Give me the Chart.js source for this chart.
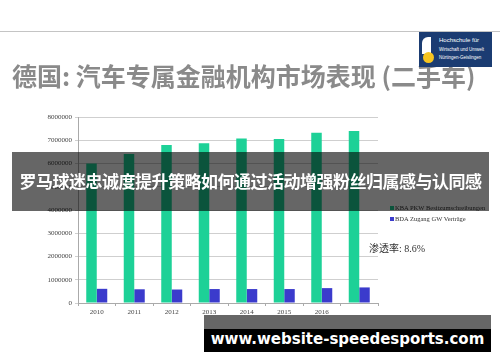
<!DOCTYPE html>
<html>
<head>
<meta charset="utf-8">
<script src="https://cdn.jsdelivr.net/npm/chart.js@4/dist/chart.umd.min.js"></script>
<style>
  html, body { margin: 0; padding: 0; background: #fff; }
  #wrap { position: relative; width: 500px; height: 362px; overflow: hidden; background: #fff; }
  #mychart { position: absolute; left: 0; top: 0; }
  .topline { position: absolute; left: 0; top: 31px; width: 500px; height: 1px; background: #c4c4c4; }
  .title { position: absolute; left: 12px; top: 57px; font: bold 25px "Noto Sans CJK SC", sans-serif; color: #8a8a8a; white-space: nowrap; }
  .logo { position: absolute; left: 419px; top: 32px; width: 73px; height: 35px; background: #1b3c72; overflow: hidden; }
  .logo .w { position: absolute; left: 3px; top: 5px; width: 9px; height: 17px; background: #fff; border-radius: 6px 0 0 0; }
  .logo .sun { position: absolute; left: 4px; top: 20px; width: 11px; height: 11px; background: #f7c520; border-radius: 50%; }
  .logo .t { position: absolute; left: 20px; color: #fff; font: 4.5px "Liberation Sans Narrow", "Liberation Sans", sans-serif; white-space: nowrap; }
  .banner { position: absolute; left: 12px; top: 152px; width: 477px; height: 59px; background: rgba(0,0,0,0.6); }
  .banner span { position: absolute; left: 0; width: 477px; top: 20px; text-align: center; color: #fff; font: bold 17px "Noto Sans CJK SC", sans-serif; white-space: nowrap; line-height: 18px; letter-spacing: -0.5px; }
  .legend { position: absolute; left: 390px; top: 204px; font: 6.5px "Liberation Serif", serif; color: #333; }
  .legend div { height: 11px; white-space: nowrap; }
  .legend i { display: inline-block; width: 4px; height: 4px; margin-right: 1px; vertical-align: 0; }
  .note { position: absolute; left: 369px; top: 240px; font: 10px "Liberation Serif", "Noto Sans CJK SC", serif; color: #333; white-space: nowrap; }
  .wm1 { position: absolute; left: 204px; top: 315px; width: 287px; height: 14px; background: #666; }
  .wm2 { position: absolute; left: 204px; top: 329px; width: 287px; height: 23px; background: #000; color: #fff; font: bold 15px "DejaVu Sans", sans-serif; text-align: center; line-height: 21px; white-space: nowrap; }
</style>
</head>
<body>
<div id="wrap">
  <canvas id="mychart" width="500" height="362"></canvas>
  <div class="topline"></div>
  <div class="title">德国: 汽车专属金融机构市场表现 (二手车)</div>
  <div class="logo">
    <div class="w"></div><div class="sun"></div>
    <div class="t" style="top:5px;font-size:6px">Hochschule für</div>
    <div class="t" style="top:15px">Wirtschaft und Umwelt</div>
    <div class="t" style="top:23px">Nürtingen-Geislingen</div>
  </div>
  <div class="legend" id="legend"></div>
  <div class="note">渗透率: 8.6%</div>
  <div class="banner"><span>罗马球迷忠诚度提升策略如何通过活动增强粉丝归属感与认同感</span></div>
  <div class="wm1"></div>
  <div class="wm2">www.website-speedesports.com</div>
</div>
<script>
const years = ['2010', '2011', '2012', '2013', '2014', '2015', '2016', ''];
const kbaValues = [6000000, 6410000, 6800000, 6870000, 7080000, 7050000, 7320000, 7400000];
const bdaValues = [610000, 590000, 580000, 600000, 600000, 600000, 640000, 670000];
const seriesNames = ['KBA PKW Besitzumschreibungen', 'BDA Zugang GW Verträge'];
const seriesColors = ['#1dd197', '#3b3bcc'];

const tickFont = { family: 'Liberation Serif', size: 7 };

let massChart = new Chart(document.getElementById('mychart'), {
    type: 'bar',
    data: {
        labels: years,
        datasets: [
            { label: seriesNames[0], data: kbaValues, backgroundColor: seriesColors[0] },
            { label: seriesNames[1], data: bdaValues, backgroundColor: seriesColors[1] }
        ]
    },
    options: {
        responsive: false,
        animation: false,
        events: [],
        categoryPercentage: 0.56,
        barPercentage: 1.0,
        layout: { padding: { left: 0, top: 117, right: 122, bottom: 39 } },
        plugins: { legend: { display: false }, tooltip: { enabled: false } },
        scales: {
            x: {
                grid: { drawOnChartArea: false, drawTicks: true, tickLength: 3, color: '#aaa' },
                border: { color: '#aaa' },
                ticks: { font: tickFont, color: '#444', padding: 2, maxRotation: 0 },
                afterFit: (s) => { s.height = 20; }
            },
            y: {
                min: 0,
                max: 8000000,
                ticks: { stepSize: 1000000, font: tickFont, color: '#444', padding: 3,
                         callback: (v) => String(v) },
                grid: { color: '#cfcfcf', tickLength: 3 },
                border: { color: '#aaa' },
                afterFit: (s) => { s.width = 78; }
            }
        }
    }
});

document.getElementById('legend').innerHTML = seriesNames.map((n, i) =>
    '<div><i style="background:' + seriesColors[i] + '"></i>' + n + '</div>').join('');
</script>
</body>
</html>
